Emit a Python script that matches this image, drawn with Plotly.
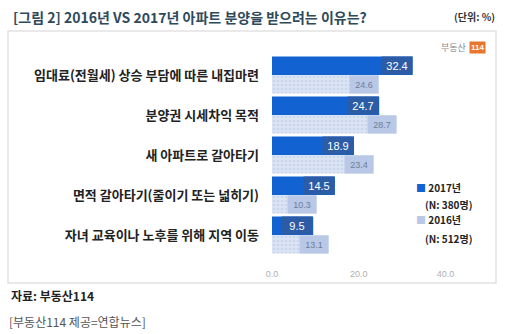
import plotly.graph_objects as go

# Survey: reasons for applying for new apartment sales, 2016 vs 2017 (%)
categories = [
    "임대료(전월세) 상승 부담에 따른 내집마련",
    "분양권 시세차익 목적",
    "새 아파트로 갈아타기",
    "면적 갈아타기(줄이기 또는 넓히기)",
    "자녀 교육이나 노후를 위해 지역 이동",
]
values_2017 = [32.4, 24.7, 18.9, 14.5, 9.5]
values_2016 = [24.6, 28.7, 23.4, 10.3, 13.1]
x_ticks = [0, 20, 40]
x_tick_labels = ["0.0", "20.0", "40.0"]

KR = "Noto Sans CJK KR"
BLUE = "#1262d2"
BLUE_TAG = "#2d5ca6"
LIGHT = "#dbe4f3"
LIGHT_DOT = "#b7c7e4"
LIGHT_TAG = "#b8c8e6"

fig = go.Figure()
fig.add_trace(go.Bar(
    y=categories, x=values_2017, orientation="h", name="2017년",
    marker=dict(color=BLUE, line=dict(width=0)),
    hoverinfo="x",
))
fig.add_trace(go.Bar(
    y=categories, x=values_2016, orientation="h", name="2016년",
    marker=dict(color=LIGHT, line=dict(width=0),
                pattern=dict(shape=".", fgcolor=LIGHT_DOT, bgcolor=LIGHT,
                             size=4, solidity=0.35)),
    hoverinfo="x",
))

# value tags sitting at the end of each bar
annotations = []
for i, (v17, v16) in enumerate(zip(values_2017, values_2016)):
    annotations.append(dict(
        x=v17, y=i - 0.235, xref="x", yref="y", text=f"{v17}",
        xanchor="right", yanchor="middle", showarrow=False,
        font=dict(family="Arial", size=11, color="white"),
        bgcolor=BLUE_TAG, width=30, height=17, borderpad=0,
    ))
    annotations.append(dict(
        x=v16, y=i + 0.235, xref="x", yref="y", text=f"{v16}",
        xanchor="right", yanchor="middle", showarrow=False,
        font=dict(family="Arial", size=9, color="#6f7f97"),
        bgcolor=LIGHT_TAG, width=28, height=17, borderpad=0,
    ))

W, H = 509, 334
L, R, T, B = 272, 20, 55, 67
pw, ph = W - L - R, H - T - B


def px_x(x):
    return (x - L) / pw


def px_y(y):
    return ((H - y) - B) / ph


def note(x, y, text, anchor="left", **font):
    return dict(x=px_x(x), y=px_y(y), xref="paper", yref="paper", text=text,
                xanchor=anchor, yanchor="middle", showarrow=False,
                font=dict(family=KR, **font))


# legend block
annotations += [
    note(414, 187, f"<span style='color:{BLUE}'>■</span> <b>2017년</b>", size=10, color="#222"),
    note(423, 204, "<b>(N: 380명)</b>", size=10, color="#222"),
    note(414, 219, f"<span style='color:{LIGHT_TAG}'>■</span> <b>2016년</b>", size=10, color="#222"),
    note(423, 238, "<b>(N: 512명)</b>", size=10, color="#222"),
]

# title, unit, source, logo
annotations += [
    note(11, 17, "<b>[그림 2] 2016년 VS 2017년 아파트 분양을 받으려는 이유는?</b>",
         size=14, color="#2e4a5c"),
    note(497, 17, "<b>(단위: %)</b>", anchor="right", size=10, color="#333"),
    note(9, 295, "<b>자료: 부동산114</b>", size=12, color="#222"),
    note(7, 321, "[부동산114 제공=연합뉴스]", size=12, color="#555"),
    note(468, 47, "부동산", anchor="right", size=9, color="#8a8a8a"),
]
logo = note(469, 47, "<b>114</b>", size=8, color="white")
logo.update(font=dict(family="Arial", size=8, color="white"), bgcolor="#e8762c", borderpad=1)
annotations.append(logo)

shapes = [
    dict(type="rect", xref="paper", yref="paper",
         x0=px_x(8), x1=px_x(496), y0=px_y(283), y1=px_y(31),
         line=dict(color="#e2e2e2", width=1.5), fillcolor="rgba(0,0,0,0)", layer="below"),
]

fig.update_layout(
    width=W, height=H,
    margin=dict(l=L, r=R, t=T, b=B),
    paper_bgcolor="white", plot_bgcolor="white",
    barmode="group", bargap=0.07, bargroupgap=0.0,
    showlegend=False,
    annotations=annotations, shapes=shapes,
    xaxis=dict(range=[0, 50], tickvals=x_ticks, ticktext=x_tick_labels,
               showgrid=False, zeroline=False, showline=False,
               tickfont=dict(family="Arial", size=9, color="#b0b0b0"),
               ticks="", fixedrange=True),
    yaxis=dict(range=[4.8, -0.5], showgrid=False, zeroline=False, showline=False,
               ticks="", ticklabelstandoff=12,
               tickfont=dict(family=KR, size=13, color="#222", weight="bold"),
               fixedrange=True),
    font=dict(family=KR),
)

fig.write_html("out.html")
